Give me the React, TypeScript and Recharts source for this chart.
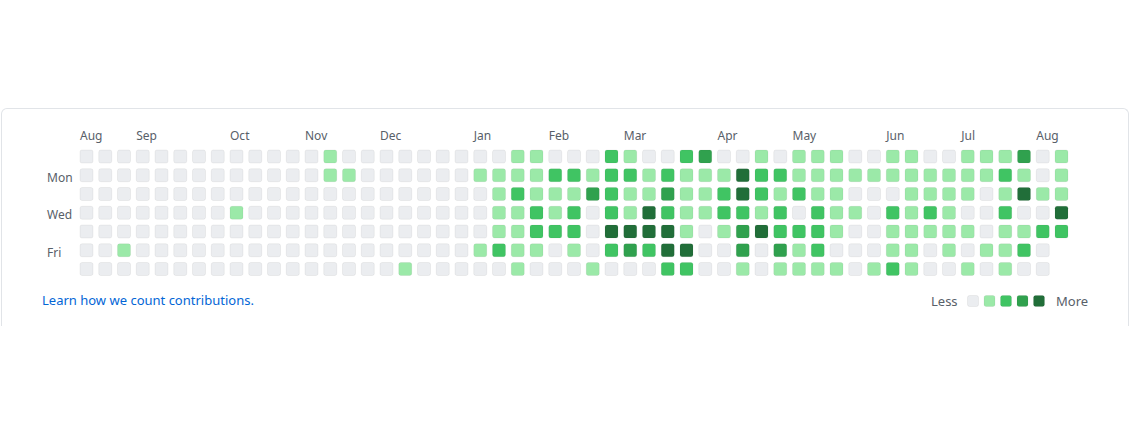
import React from "react";
import { ScatterChart, Scatter, XAxis, YAxis } from "recharts";

// Contribution levels (0-4) per weekday row, one entry per week column (53 weeks)
const sun = [0,0,0,0,0,0,0,0,0,0,0,0,0,1,0,0,0,0,0,0,0,0,0,1,1,0,0,0,2,1,0,0,2,3,0,0,1,0,1,1,1,0,0,1,1,0,0,1,1,1,3,0,1];
const mon = [0,0,0,0,0,0,0,0,0,0,0,0,0,1,1,0,0,0,0,0,0,1,1,1,1,2,2,1,2,2,1,2,1,1,1,4,2,2,1,1,1,1,1,1,1,1,1,1,1,2,1,0,1];
const tue = [0,0,0,0,0,0,0,0,0,0,0,0,0,0,0,0,0,0,0,0,0,0,1,2,1,1,1,3,2,1,1,3,1,1,2,4,2,1,2,1,1,0,0,0,1,1,1,1,0,1,4,1,1];
const wed = [0,0,0,0,0,0,0,0,1,0,0,0,0,0,0,0,0,0,0,0,0,0,1,1,2,1,2,0,2,1,4,2,1,1,2,2,1,2,0,2,1,1,0,2,1,2,1,0,0,2,0,0,4];
const thu = [0,0,0,0,0,0,0,0,0,0,0,0,0,0,0,0,0,0,0,0,0,0,1,1,2,2,2,0,4,4,4,4,1,0,1,3,4,2,2,2,1,0,0,1,1,1,1,1,0,1,1,2,2];
const fri = [0,0,1,0,0,0,0,0,0,0,0,0,0,0,0,0,0,0,0,0,0,1,2,1,1,0,1,0,2,3,2,4,4,0,0,3,0,3,1,2,0,0,0,1,1,0,1,0,1,1,2,0,null];
const sat = [0,0,0,0,0,0,0,0,0,0,0,0,0,0,0,0,0,1,0,0,0,0,0,1,0,0,0,1,0,0,0,2,2,0,0,1,0,1,1,1,1,0,1,2,1,0,0,1,0,1,0,0,null];

const weekdayRows = [sun, mon, tue, wed, thu, fri, sat];

const monthLabels = ["Aug", "Sep", "Oct", "Nov", "Dec", "Jan", "Feb", "Mar", "Apr", "May", "Jun", "Jul", "Aug"];
const monthCols = [0, 3, 8, 12, 16, 21, 25, 29, 34, 38, 43, 47, 51];

const dayLabels = ["Mon", "Wed", "Fri"];
const dayRows = [1, 3, 5];

const levelColors = ["#ebedf0", "#9be9a8", "#40c463", "#30a14e", "#216e39"];

const cells: { col: number; row: number; level: number }[] = [];
weekdayRows.forEach((arr, row) => {
  arr.forEach((v, col) => {
    if (v !== null && v !== undefined) cells.push({ col, row, level: v as number });
  });
});

const FONT = "'Segoe UI', 'Noto Sans', sans-serif";

const Cell = (props: any) => {
  const { cx, cy, payload } = props;
  if (cx == null || cy == null) return null;
  return (
    <rect
      x={cx - 6.5}
      y={cy - 6.5}
      width={13}
      height={13}
      rx={2}
      ry={2}
      fill={levelColors[payload.level]}
      stroke="rgba(27,31,35,0.06)"
      strokeWidth={1}
    />
  );
};

const MonthTick = (props: any) => {
  const { x, payload } = props;
  const idx = monthCols.indexOf(payload.value);
  return (
    <text x={x - 6.5} y={139.5} fill="#586069" fontSize={12} fontFamily={FONT} textAnchor="start">
      {monthLabels[idx]}
    </text>
  );
};

const DayTick = (props: any) => {
  const { y, payload } = props;
  const idx = dayRows.indexOf(payload.value);
  return (
    <text x={47} y={y + 6.5} fill="#586069" fontSize={12} fontFamily={FONT} textAnchor="start">
      {dayLabels[idx]}
    </text>
  );
};

export default function App() {
  return (
    <div style={{ position: "absolute", left: 0, top: 0, width: 1130, height: 434, background: "#fff", fontFamily: FONT }}>
      <div
        style={{
          position: "absolute",
          left: 1,
          top: 108,
          width: 1128,
          height: 218,
          boxSizing: "border-box",
          border: "1px solid #e1e4e8",
          borderBottom: "none",
          borderRadius: "6px 6px 0 0",
        }}
      />
      <div style={{ position: "absolute", left: 0, top: 0 }}>
        <ScatterChart
          width={1130}
          height={434}
          margin={{ top: 117.125, right: 59.125, bottom: 155.625, left: 0 }}
        >
          <XAxis
            type="number"
            dataKey="col"
            orientation="top"
            domain={[-0.5, 52.5]}
            ticks={monthCols}
            interval={0}
            height={30}
            axisLine={false}
            tickLine={false}
            tick={<MonthTick />}
            allowDataOverflow
          />
          <YAxis
            type="number"
            dataKey="row"
            domain={[-0.5, 6.5]}
            reversed
            ticks={dayRows}
            interval={0}
            width={77.125}
            axisLine={false}
            tickLine={false}
            tick={<DayTick />}
            allowDataOverflow
          />
          <Scatter data={cells} shape={<Cell />} isAnimationActive={false} />
        </ScatterChart>
      </div>
      <div style={{ position: "absolute", left: 42, top: 291, fontSize: 13, color: "#0366d6", fontFamily: FONT, lineHeight: "18px" }}>
        Learn how we count contributions.
      </div>
      <div style={{ position: "absolute", left: 931, top: 292, fontSize: 13, color: "#586069", fontFamily: FONT, lineHeight: "18px" }}>
        Less
      </div>
      <svg style={{ position: "absolute", left: 960, top: 290 }} width={90} height={20}>
        {levelColors.map((c, i) => (
          <rect key={i} x={7.5 + i * 16.5} y={5.5} width={11} height={11} rx={2} fill={c} stroke="rgba(27,31,35,0.06)" />
        ))}
      </svg>
      <div style={{ position: "absolute", left: 1056, top: 292, fontSize: 13, color: "#586069", fontFamily: FONT, lineHeight: "18px" }}>
        More
      </div>
    </div>
  );
}
